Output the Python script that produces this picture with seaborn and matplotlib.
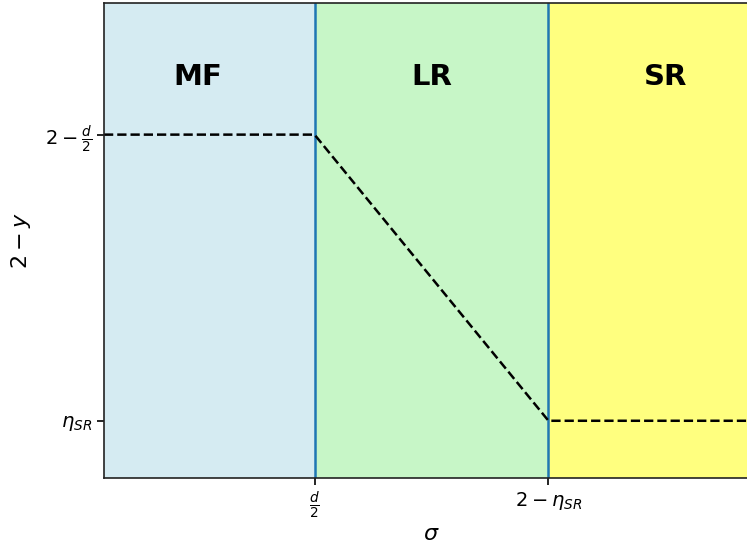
import matplotlib
matplotlib.use("Agg")
import matplotlib.pyplot as plt
import seaborn as sns
import pandas as pd

# data
d_half = 1.25
two_minus_eta = 1.75
y_top = 0.75       # 2 - d/2
y_low = 0.25       # eta_SR
x_min, x_max = 0.8, 2.2
y_min, y_max = 0.15, 0.98

line_x = [x_min, d_half, two_minus_eta, x_max]
line_y = [y_top, y_top, y_low, y_low]

regions = ["MF", "LR", "SR"]
region_bounds = [(x_min, d_half), (d_half, two_minus_eta), (two_minus_eta, x_max)]
region_colors = ["lightblue", "lightgreen", "yellow"]
label_x = [1.0, 1.5, 2.0]
label_y = 0.85

xtick_pos = [d_half, two_minus_eta]
xtick_labels = [r"$\frac{d}{2}$", r"$2-\eta_{SR}$"]
ytick_pos = [y_low, y_top]
ytick_labels = [r"$\eta_{SR}$", r"$2-\frac{d}{2}$"]

sns.set_style("white", {"text.color": "black", "axes.labelcolor": "black",
                        "xtick.color": "black", "ytick.color": "black",
                        "axes.edgecolor": "black"})
fig = plt.figure(figsize=(7.47, 5.48), dpi=100)
ax = fig.add_axes([104/747, 70/548, 655/747, 475/548])

for (a, b), c in zip(region_bounds, region_colors):
    ax.axvspan(a, b, color=c, alpha=0.5, lw=0)
for xv in [d_half, two_minus_eta]:
    ax.axvline(xv, color="#1f77b4", lw=1.8)

df = pd.DataFrame({"x": line_x, "y": line_y})
sns.lineplot(data=df, x="x", y="y", ax=ax, color="black", linestyle="--", lw=1.8, sort=False)

for name, lx in zip(regions, label_x):
    ax.text(lx, label_y, name, ha="center", va="center", fontsize=21,
            fontweight="bold", color="black")

ax.set_xlim(x_min, x_max)
ax.set_ylim(y_min, y_max)
ax.set_xticks(xtick_pos)
ax.set_xticklabels(xtick_labels, fontsize=14)
ax.set_yticks(ytick_pos)
ax.set_yticklabels(ytick_labels, fontsize=14)
ax.tick_params(axis="both", which="both", length=5, width=1.2, direction="out",
               bottom=True, left=True, colors="black")
ax.set_xlabel(r"$\sigma$", fontsize=16, labelpad=2)
ax.set_ylabel(r"$2-y$", fontsize=16, labelpad=9)
for s in ax.spines.values():
    s.set_linewidth(1.2)
    s.set_color("#222222")

fig.savefig("out.png", dpi=100)
